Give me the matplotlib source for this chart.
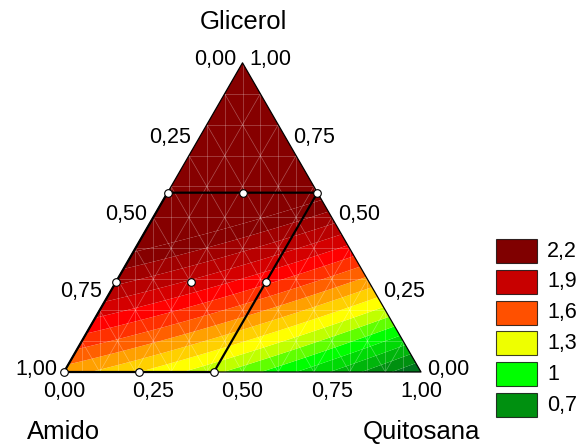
import numpy as np
import matplotlib
matplotlib.use("Agg")
import matplotlib.pyplot as plt
import matplotlib.tri as mtri
from matplotlib.colors import LinearSegmentedColormap
from matplotlib.patches import Rectangle

plt.rcParams["font.family"] = ["Liberation Sans", "DejaVu Sans"]

# ensaios (frações de glicerol e quitosana; amido = resto)
GLICEROL = [0.58, 0.58, 0.58, 0.29, 0.29, 0.29, 0.00, 0.00, 0.00]
QUITOSANA = [0.00, 0.21, 0.42, 0.00, 0.21, 0.42, 0.00, 0.21, 0.42]

# modelo quadrático de Scheffé: A, G, Q, AG, AQ, GQ
COEF = [1.55, 3.30, 0.60, 0.30, 0.30, 0.80]

TICKS = [0.00, 0.25, 0.50, 0.75, 1.00]
LEG_LABELS = ["2,2", "1,9", "1,6", "1,3", "1", "0,7"]
LEG_COLORS = ["#800000", "#c80000", "#ff5000", "#eeff00", "#00ff00", "#009010"]

# escala de cores (limite inferior da faixa -> cor)
CMAP_VALUES = [0.5, 0.7, 1.0, 1.2, 1.3, 1.4, 1.5, 1.6, 1.7, 1.8, 1.9, 2.0, 2.1, 2.2]
CMAP_COLORS = ["#005a2a", "#009010", "#00ff00", "#c0ff00", "#ffff00", "#ffd000",
               "#ffa000", "#ff6000", "#ff3000", "#ff0000", "#d40000", "#b80000",
               "#a00000", "#860000"]
LEVEL_STEP = 0.1

S = 357.0            # pixels por unidade de lado
W, H = 583, 446
X0, Y0 = 64, 372     # vértice do amido, em pixels
R3 = np.sqrt(3) / 2


def xy(g, q):
    g = np.asarray(g, dtype=float)
    q = np.asarray(q, dtype=float)
    return q + g / 2, g * R3


def px(x, y):
    return (x - X0) / S, (Y0 - y) / S


def modelo(a, g, q):
    b1, b2, b3, b12, b13, b23 = COEF
    return (b1 * a + b2 * g + b3 * q
            + b12 * a * g + b13 * a * q + b23 * g * q)


def fmt(v):
    return f"{v:.2f}".replace(".", ",")


fig = plt.figure(figsize=(W / 100, H / 100), dpi=100)
ax = fig.add_axes([0, 0, 1, 1])
ax.set_xlim(-X0 / S, (W - X0) / S)
ax.set_ylim(-(H - Y0) / S, Y0 / S)
ax.axis("off")

# superfície
n = 140
gg, qq = [], []
for i in range(n + 1):
    for j in range(n + 1 - i):
        gg.append(i / n)
        qq.append(j / n)
gg = np.array(gg)
qq = np.array(qq)
aa = np.clip(1 - gg - qq, 0, 1)
tx, ty = xy(gg, qq)
tri = mtri.Triangulation(tx, ty)
z = modelo(aa, gg, qq)

lo, hi = CMAP_VALUES[0], CMAP_VALUES[-1]
cmap = LinearSegmentedColormap.from_list(
    "resp", [((v - lo) / (hi - lo), c) for v, c in zip(CMAP_VALUES, CMAP_COLORS)])
levels = list(np.round(np.arange(0.4, 2.35, LEVEL_STEP), 2)) + [10.0]
band_cols = [cmap(np.clip((v - lo) / (hi - lo), 0, 1)) for v in levels[:-1]]
ax.tricontourf(tri, z, levels=levels, colors=band_cols, antialiased=True, zorder=1)

# malha clara
gl = dict(color="white", lw=0.5, alpha=0.32, zorder=2)
for t in np.arange(0.1, 1.0, 0.1):
    x1, y1 = xy([t, t], [0, 1 - t]); ax.plot(x1, y1, **gl)
    x1, y1 = xy([0, 1 - t], [t, t]); ax.plot(x1, y1, **gl)
    x1, y1 = xy([0, 1 - t], [1 - t, 0]); ax.plot(x1, y1, **gl)
for xv in np.arange(0.05, 1.0, 0.05):
    top = 2 * R3 * xv if xv <= 0.5 else 2 * R3 * (1 - xv)
    ax.plot([xv, xv], [0, top], **gl)

# contorno do triângulo
bx, by = xy([0, 0, 1, 0], [0, 1, 0, 0])
ax.plot(bx, by, color="black", lw=0.9, zorder=4)

# região experimental
gmax, qmax = max(GLICEROL), max(QUITOSANA)
rx, ry = xy([0, 0, gmax, gmax, 0], [0, qmax, qmax, 0, 0])
ax.plot(rx, ry, color="black", lw=1.6, zorder=5)
ptx, pty = xy(GLICEROL, QUITOSANA)
ax.plot(ptx, pty, "o", ms=5.5, mfc="white", mec="black", mew=0.8, zorder=6)

# rótulos dos eixos
tick_fs = 15.5
off = 6.5 / S
dy = 3 / S
for v in TICKS:
    # amido (lado esquerdo)
    x, y = xy(1 - v, 0)
    ax.text(x - off, y + dy, fmt(v), ha="right", va="center", fontsize=tick_fs)
    # glicerol (lado direito)
    x, y = xy(v, 1 - v)
    ax.text(x + off, y + dy, fmt(v), ha="left", va="center", fontsize=tick_fs)
    # quitosana (base)
    x, y = xy(0, v)
    ax.text(x, y - 20 / S, fmt(v), ha="center", va="center", fontsize=tick_fs)

ax.text(*px(243, 22), "Glicerol", ha="center", va="center", fontsize=18.5)
ax.text(*px(64, 432), "Amido", ha="center", va="center", fontsize=18.5)
ax.text(*px(421, 432), "Quitosana", ha="center", va="center", fontsize=18.5)

# legenda
for k, (lab, col) in enumerate(zip(LEG_LABELS, LEG_COLORS)):
    top = 239 + k * 30.8
    x, y = px(496, top + 24)
    ax.add_patch(Rectangle((x, y), 41 / S, 24 / S, facecolor=col,
                           edgecolor=(0, 0, 0, 0.75), lw=0.8, zorder=5))
    ax.text(*px(547, top + 12), lab, ha="left", va="center", fontsize=tick_fs)

fig.savefig("out.png", dpi=100)
